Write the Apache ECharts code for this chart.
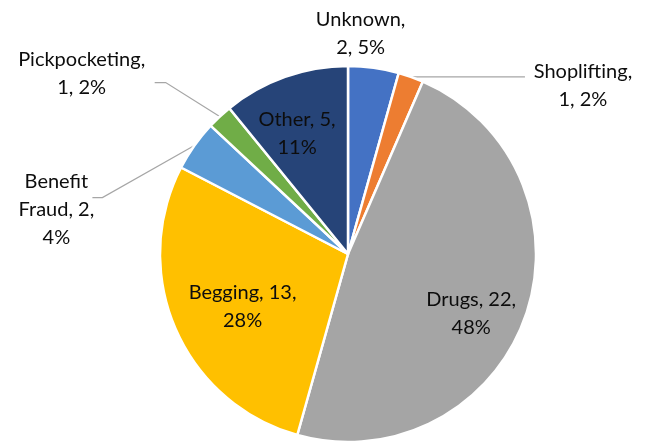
<!DOCTYPE html>
<html>
<head>
<meta charset="utf-8">
<script src="https://cdn.jsdelivr.net/npm/echarts@6/dist/echarts.min.js"></script>
<style>
html,body{margin:0;padding:0;background:#fff;}
#chart{width:650px;height:445px;}
</style>
</head>
<body>
<div id="chart"></div>
<script>
// ---- data ----
var categories = ['Unknown', 'Shoplifting', 'Drugs', 'Begging', 'Benefit Fraud', 'Pickpocketing', 'Other'];
var counts = [2, 1, 22, 13, 2, 1, 5];
var percentLabels = [5, 2, 48, 28, 4, 2, 11]; // as displayed in the chart
var colors = ['#4472C4', '#ED7D31', '#A5A5A5', '#FFC000', '#5B9BD5', '#70AD47', '#264478'];

// ---- label styling (words per line, placement relative to slice edge midpoint) ----
var lineWords = [[1, 2], [1, 2], [2, 1], [2, 1], [1, 2, 1], [1, 2], [2, 1]];
var showLine = [false, true, false, false, true, true, false];
var labelOffset = [[-13, -34], [172, 9], [-54, -3], [67, -22], [-138, 64], [-138, -43], [12, 57]];
var lineBends = [null, [[114, 0]], null, null, [[-92, 52], [-102, 52]], [[-54, -34], [-65, -34]], null];

var CX = 348, CY = 254, R = 188;

var total = counts.reduce(function (a, b) { return a + b; }, 0);
var midAngles = [];
(function () {
  var acc = 0;
  for (var i = 0; i < counts.length; i++) {
    midAngles.push((acc + counts[i] / 2) / total * 2 * Math.PI);
    acc += counts[i];
  }
})();

function labelText(i) {
  var name = categories[i];
  var tokens = name.split(' ');
  tokens[tokens.length - 1] += ',';
  tokens.push(counts[i] + ',');
  tokens.push(percentLabels[i] + '%');
  var lines = [], k = 0;
  lineWords[i].forEach(function (n) {
    lines.push(tokens.slice(k, k + n).join(' '));
    k += n;
  });
  return lines.join('\n');
}

var chart = echarts.init(document.getElementById('chart'), null, { renderer: 'canvas' });

var seriesData = categories.map(function (c, i) {
  return {
    name: c,
    value: counts[i],
    itemStyle: { color: colors[i] },
    labelLine: { show: showLine[i] }
  };
});

chart.setOption({
  animation: false,
  backgroundColor: '#ffffff',
  series: [{
    type: 'pie',
    center: [CX, CY],
    radius: R,
    startAngle: 90,
    clockwise: true,
    avoidLabelOverlap: false,
    data: seriesData,
    itemStyle: { borderColor: '#ffffff', borderWidth: 2.5 },
    label: {
      show: true,
      position: 'outside',
      color: '#0d0d0d',
      fontFamily: 'Lato',
      fontSize: 20,
      lineHeight: 28,
      align: 'center',
      formatter: function (p) { return labelText(p.dataIndex); }
    },
    labelLine: {
      show: true,
      lineStyle: { color: '#A6A6A6', width: 1.2 }
    },
    labelLayout: function (p) {
      var i = p.dataIndex;
      var a = midAngles[i];
      var ax = CX + R * Math.sin(a), ay = CY - R * Math.cos(a);
      var res = {
        x: ax + labelOffset[i][0],
        y: ay + labelOffset[i][1],
        align: 'center',
        verticalAlign: 'middle'
      };
      if (lineBends[i]) {
        var pts = [[ax, ay]];
        lineBends[i].forEach(function (b) { pts.push([ax + b[0], ay + b[1]]); });
        res.labelLinePoints = pts;
      }
      return res;
    }
  }]
});
</script>
</body>
</html>
